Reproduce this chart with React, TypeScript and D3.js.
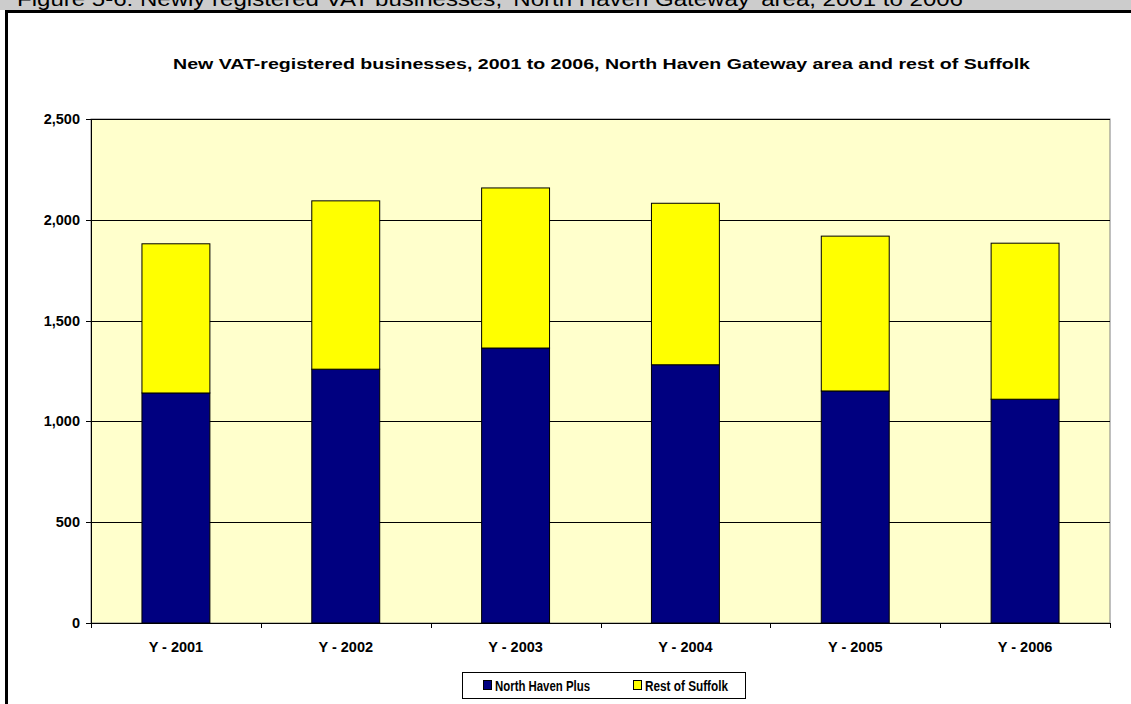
import React from "react";
import * as d3 from "d3";

const categories = ["Y - 2001", "Y - 2002", "Y - 2003", "Y - 2004", "Y - 2005", "Y - 2006"];
const northHaven = [1141, 1259, 1364, 1281, 1151, 1110];
const totals = [1881, 2094, 2158, 2082, 1919, 1884];
const restOfSuffolk = totals.map((t, i) => t - northHaven[i]);
const seriesNames = ["North Haven Plus", "Rest of Suffolk"];
const seriesColors = ["#000080", "#FFFF00"];
const yTicks = [0, 500, 1000, 1500, 2000, 2500];

const W = 1131;
const H = 704;
const plot = { left: 91, right: 1110, top: 119, bottom: 623 };
const FONT = "Arial, 'Liberation Sans', sans-serif";

export default function App() {
  const x = d3
    .scaleBand<string>()
    .domain(categories)
    .range([plot.left, plot.right])
    .paddingInner(0.6)
    .paddingOuter(0.3);
  const y = d3.scaleLinear().domain([0, 2500]).range([plot.bottom, plot.top]);

  const table = categories.map((c, i) => ({
    cat: c,
    north: northHaven[i],
    rest: restOfSuffolk[i],
  }));
  const stack = d3.stack<any>().keys(["north", "rest"])(table);

  const step = (plot.right - plot.left) / categories.length;
  const boundaries = d3.range(categories.length + 1).map((i) => plot.left + i * step);

  const legendItems = [
    { x: 483, textLen: 95 },
    { x: 633, textLen: 83 },
  ];

  return (
    <div style={{ position: "absolute", left: 0, top: 0 }}>
      <svg width={W} height={H} style={{ display: "block" }}>
        <rect x={0} y={0} width={W} height={H} fill="#ffffff" />
        {/* header band */}
        <rect x={0} y={0} width={W} height={10} fill="#cccccc" />
        <text
          x={17}
          y={5.5}
          fontFamily={FONT}
          fontSize={20}
          fill="#000"
          textLength={946}
          lengthAdjust="spacingAndGlyphs"
        >
          Figure 5-6: Newly registered VAT businesses, 'North Haven Gateway' area, 2001 to 2006
        </text>
        {/* chart frame */}
        <rect x={6.5} y={11.5} width={W + 20} height={H + 20} fill="#ffffff" stroke="#000" strokeWidth={3} />

        {/* title */}
        <text
          x={173}
          y={69}
          fontFamily={FONT}
          fontWeight="bold"
          fontSize={15.5}
          fill="#000"
          textLength={857}
          lengthAdjust="spacingAndGlyphs"
        >
          New VAT-registered businesses, 2001 to 2006, North Haven Gateway area and rest of Suffolk
        </text>

        {/* plot area */}
        <rect
          x={plot.left}
          y={plot.top}
          width={plot.right - plot.left}
          height={plot.bottom - plot.top}
          fill="#FFFFCC"
          stroke="#808080"
          strokeWidth={1}
        />
        {yTicks.map((t) => (
          <g key={t}>
            {t > 0 && (
              <line
                x1={plot.left}
                x2={plot.right}
                y1={Math.round(y(t)) + 0.5}
                y2={Math.round(y(t)) + 0.5}
                stroke="#000"
                strokeWidth={1}
              />
            )}
            <line
              x1={plot.left - 5}
              x2={plot.left}
              y1={Math.round(y(t)) + 0.5}
              y2={Math.round(y(t)) + 0.5}
              stroke="#000"
            />
            <text
              x={plot.left - 11}
              y={y(t) + 5}
              textAnchor="end"
              fontFamily={FONT}
              fontWeight="bold"
              fontSize={14.5}
              fill="#000"
            >
              {d3.format(",")(t)}
            </text>
          </g>
        ))}

        {/* bars */}
        {stack.map((s, si) =>
          s.map((d, i) => (
            <rect
              key={`${si}-${i}`}
              x={x(categories[i])!}
              y={y(d[1])}
              width={x.bandwidth()}
              height={y(d[0]) - y(d[1])}
              fill={seriesColors[si]}
              stroke="#000"
              strokeWidth={1}
            />
          ))
        )}

        {/* axes */}
        <line x1={plot.left + 0.5} x2={plot.left + 0.5} y1={plot.top} y2={plot.bottom} stroke="#000" />
        <line x1={plot.left} x2={plot.right} y1={plot.bottom + 0.5} y2={plot.bottom + 0.5} stroke="#000" />
        {boundaries.map((bx, i) => (
          <line
            key={i}
            x1={Math.round(bx) + 0.5}
            x2={Math.round(bx) + 0.5}
            y1={plot.bottom}
            y2={plot.bottom + 5}
            stroke="#000"
          />
        ))}
        {categories.map((c) => (
          <text
            key={c}
            x={x(c)! + x.bandwidth() / 2}
            y={652}
            textAnchor="middle"
            fontFamily={FONT}
            fontWeight="bold"
            fontSize={14.5}
            fill="#000"
          >
            {c}
          </text>
        ))}

        {/* legend */}
        <rect x={462.5} y={672.5} width={283} height={26} fill="#ffffff" stroke="#000" strokeWidth={1} />
        {seriesNames.map((n, i) => {
          const lx = legendItems[i].x;
          return (
            <g key={n}>
              <rect x={lx + 0.5} y={680.5} width={8} height={9} fill={seriesColors[i]} stroke="#000" strokeWidth={1} />
              <text
                x={lx + 12}
                y={690.5}
                fontFamily={FONT}
                fontWeight="bold"
                fontSize={14.5}
                fill="#000"
                textLength={legendItems[i].textLen}
                lengthAdjust="spacingAndGlyphs"
              >
                {n}
              </text>
            </g>
          );
        })}
      </svg>
    </div>
  );
}
